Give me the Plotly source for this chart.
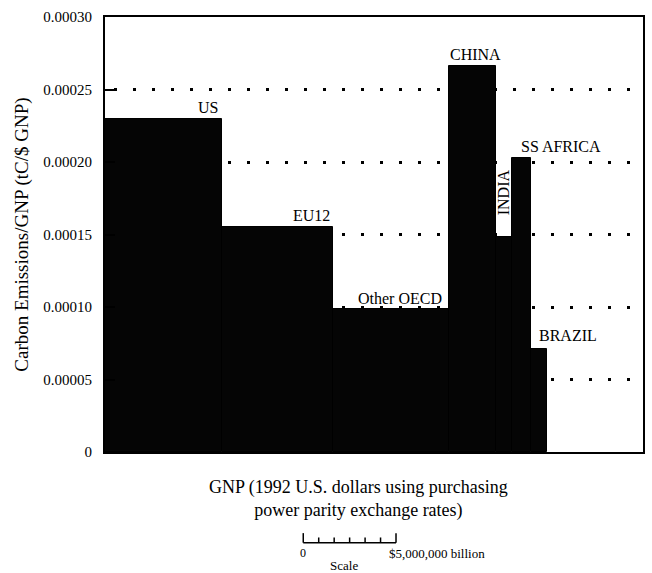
import plotly.graph_objects as go

# ---- data ----
regions = ["US", "EU12", "Other OECD", "CHINA", "INDIA", "SS AFRICA", "BRAZIL"]
gnp = [6.3e6, 6.0e6, 6.25e6, 2.5e6, 0.9e6, 1.0e6, 0.85e6]          # width (GNP, "billion" 1992 $ PPP)
intensity = [0.000230, 0.000155, 0.0000985, 0.000266, 0.000148, 0.000203, 0.000071]  # tC/$ GNP
y_ticks = [0, 0.00005, 0.00010, 0.00015, 0.00020, 0.00025, 0.00030]
y_ticklabels = ["0", "0.00005", "0.00010", "0.00015", "0.00020", "0.00025", "0.00030"]
scale_value = 5e6
x_max = 29.0e6

FONT = "Liberation Serif, Times New Roman, serif"

lefts = []
acc = 0.0
for w in gnp:
    lefts.append(acc)
    acc += w
centers = [l + w / 2 for l, w in zip(lefts, gnp)]

fig = go.Figure()
fig.add_trace(go.Bar(
    x=centers, y=intensity, width=gnp,
    marker=dict(color="#050505", line=dict(color="#000000", width=1)),
    hoverinfo="skip", showlegend=False,
))

# ---- labels ----
ann = []
def lab(i, text, x, xanchor, yshift=1, xshift=0):
    ann.append(dict(x=x, y=intensity[i], xref="x", yref="y", text=text,
                    showarrow=False, xanchor=xanchor, yanchor="bottom",
                    yshift=yshift, xshift=xshift,
                    font=dict(family=FONT, size=16, color="black")))

lab(0, "US", lefts[0] + gnp[0], "right", xshift=-2)
lab(1, "EU12", lefts[1] + gnp[1], "right", xshift=-1)
lab(2, "Other OECD", lefts[2] + gnp[2], "right", xshift=-5, yshift=0)
lab(3, "CHINA", centers[3], "center", xshift=3)
lab(5, "SS AFRICA", lefts[5], "left", xshift=7)
lab(6, "BRAZIL", lefts[6], "left", xshift=6, yshift=3)
ann.append(dict(x=centers[4], y=intensity[4], xref="x", yref="y", text="INDIA",
                showarrow=False, textangle=-90, xanchor="center", yanchor="bottom",
                yshift=20, font=dict(family=FONT, size=16, color="black")))

# ---- x-axis title ----
ann.append(dict(x=0.472, y=-0.052, xref="paper", yref="paper",
                text="GNP (1992 U.S. dollars using purchasing<br>power parity exchange rates)",
                showarrow=False, xanchor="center", yanchor="top",
                font=dict(family=FONT, size=18, color="black")))

# ---- scale bar ----
sx0 = 0.3685
sx1 = sx0 + scale_value / x_max
sy = -0.2085
tick_h = 0.022
small_h = 0.012
shapes = [dict(type="line", xref="paper", yref="paper", x0=sx0, x1=sx1, y0=sy, y1=sy,
               line=dict(color="black", width=1.5))]
n_int = 6
for k in range(n_int + 1):
    xx = sx0 + (sx1 - sx0) * k / n_int
    h = tick_h if k in (0, n_int) else small_h
    shapes.append(dict(type="line", xref="paper", yref="paper", x0=xx, x1=xx, y0=sy, y1=sy + h,
                       line=dict(color="black", width=1.5)))
ann.append(dict(x=sx0, y=sy - 0.004, xref="paper", yref="paper", text="0", showarrow=False,
                xanchor="center", yanchor="top", font=dict(family=FONT, size=12, color="black")))
ann.append(dict(x=sx1 - 0.016, y=sy - 0.004, xref="paper", yref="paper", text="$5,000,000 billion",
                showarrow=False, xanchor="left", yanchor="top",
                font=dict(family=FONT, size=13, color="black")))
ann.append(dict(x=(sx0 + sx1) / 2 - 0.01, y=sy - 0.030, xref="paper", yref="paper", text="Scale",
                showarrow=False, xanchor="center", yanchor="top",
                font=dict(family=FONT, size=13, color="black")))

fig.update_layout(
    width=652, height=573,
    margin=dict(l=105, r=7, t=17, b=121),
    paper_bgcolor="white", plot_bgcolor="white",
    bargap=0,
    annotations=ann, shapes=shapes,
    font=dict(family=FONT, color="black"),
)
fig.update_xaxes(range=[0, x_max], showticklabels=False, ticks="", showgrid=False,
                 zeroline=False, showline=True, linecolor="black", linewidth=2, mirror=True)
fig.update_yaxes(range=[0, 0.0003], tickvals=y_ticks, ticktext=y_ticklabels,
                 ticks="inside", ticklen=10, tickwidth=2, tickcolor="black",
                 ticklabelstandoff=8,
                 tickfont=dict(family=FONT, size=15, color="black"),
                 showgrid=True, gridcolor="black", gridwidth=2.5, griddash="0px,9px,3px,7px",
                 zeroline=False, showline=True, linecolor="black", linewidth=2, mirror=True,
                 title=dict(text="Carbon Emissions/GNP (tC/$ GNP)", standoff=10,
                            font=dict(family=FONT, size=19, color="black")))

fig.write_html("out.html")
